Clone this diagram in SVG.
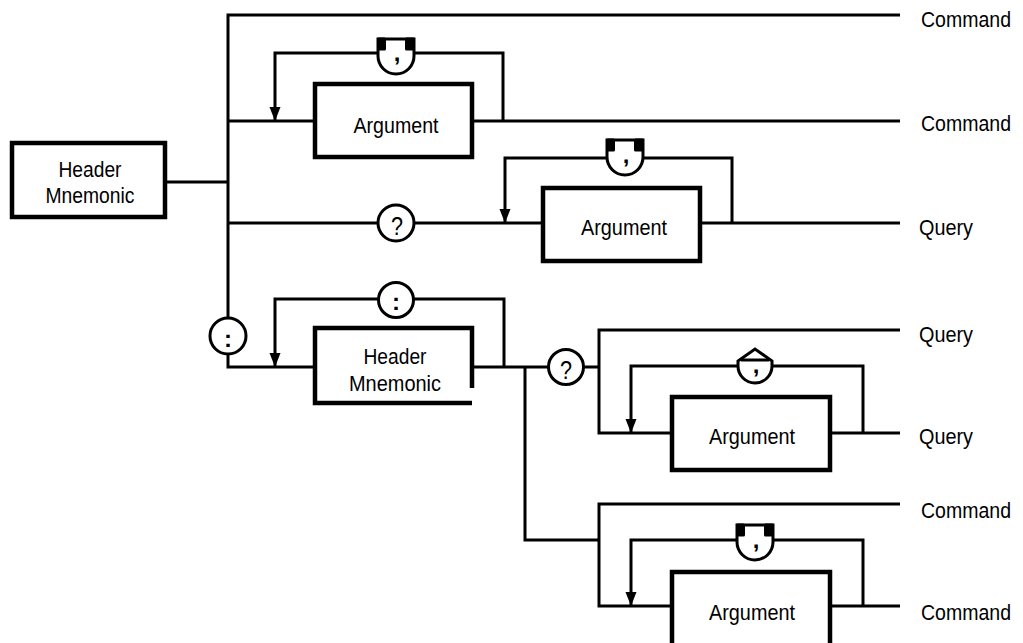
<svg xmlns="http://www.w3.org/2000/svg" width="1023" height="643" viewBox="0 0 1023 643">
  <style>
    .wire { fill: none; stroke: #000; stroke-width: 3; stroke-linejoin: miter; }
    .box { fill: #fff; stroke: #000; stroke-width: 4.5; }
    .ring { fill: #fff; stroke: #000; stroke-width: 3; }
    .blk { fill: #000; }
    .lbl { font-family: "Liberation Sans", Arial, Helvetica, sans-serif; font-size: 22px; fill: #000; }
    .mid { text-anchor: middle; }
    .sym { font-family: "Liberation Sans", Arial, Helvetica, sans-serif; font-size: 24px; font-weight: bold; text-anchor: middle; fill: #000; }
    .q { font-family: "Liberation Sans", Arial, Helvetica, sans-serif; font-size: 25px; text-anchor: middle; fill: #000; }
  </style>
  <defs>
    <marker id="arrow" markerUnits="userSpaceOnUse" markerWidth="14" markerHeight="12" viewBox="0 0 14 12" refX="14" refY="6" orient="auto">
      <path d="M0,0.5 L14,6 L0,11.5 Z" fill="#000"/>
    </marker>
    <!-- separator ring with a flat, heavy top, centred on the origin -->
    <g id="flat-ring">
      <path class="ring" d="M-18,0 A18,18 0 0 0 18,0 V-17 H-18 Z"/>
      <rect class="blk" x="-19" y="-18.5" width="9" height="13" rx="1.5"/>
      <rect class="blk" x="9" y="-18.5" width="10" height="13" rx="1.5"/>
    </g>
  </defs>

  <rect width="1023" height="643" fill="#fff"/>

  <!-- connectors -->
  <g id="connectors">
    <path class="wire" d="M165,182 H228"/>
    <path class="wire" d="M900,15 H228 V367 H315"/>
    <path class="wire" d="M228,121 H315 M472,121 H900"/>
    <path class="wire" d="M503,121 V53 H275 V121" marker-end="url(#arrow)"/>
    <path class="wire" d="M228,223 H543 M700,223 H900"/>
    <path class="wire" d="M732,223 V158 H505 V223" marker-end="url(#arrow)"/>
    <path class="wire" d="M504,367 V299 H275 V367" marker-end="url(#arrow)"/>
    <path class="wire" d="M472,367 H599 M525,367 V540 H599"/>
    <path class="wire" d="M900,330 H599 V433 H672 M830,433 H900"/>
    <path class="wire" d="M863,433 V366 H631 V433" marker-end="url(#arrow)"/>
    <path class="wire" d="M900,504 H599 V606 H672 M830,606 H900"/>
    <path class="wire" d="M863,606 V540 H631 V606" marker-end="url(#arrow)"/>
  </g>

  <!-- boxes -->
  <g id="header-main">
    <rect class="box" x="12" y="143" width="153" height="74"/>
    <text class="lbl mid" x="90" y="177" textLength="63" lengthAdjust="spacingAndGlyphs">Header</text>
    <text class="lbl mid" x="90" y="203" textLength="89" lengthAdjust="spacingAndGlyphs">Mnemonic</text>
  </g>
  <g id="argument-command">
    <rect class="box" x="315" y="84" width="157" height="73"/>
    <text class="lbl mid" x="396" y="133" textLength="85" lengthAdjust="spacingAndGlyphs">Argument</text>
  </g>
  <g id="argument-query">
    <rect class="box" x="543" y="188" width="157" height="73"/>
    <text class="lbl mid" x="624" y="235" textLength="86" lengthAdjust="spacingAndGlyphs">Argument</text>
  </g>
  <g id="header-sub">
    <rect x="315" y="328" width="157" height="75" fill="#fff"/>
    <path class="box" fill="none" d="M472,388 V328 H315 V403 H472"/>
    <text class="lbl mid" x="395" y="364" textLength="63" lengthAdjust="spacingAndGlyphs">Header</text>
    <text class="lbl mid" x="395" y="391" textLength="92" lengthAdjust="spacingAndGlyphs">Mnemonic</text>
  </g>
  <g id="argument-sub-query">
    <rect class="box" x="672" y="397" width="158" height="73"/>
    <text class="lbl mid" x="752" y="444" textLength="86" lengthAdjust="spacingAndGlyphs">Argument</text>
  </g>
  <g id="argument-sub-command">
    <rect class="box" x="672" y="572" width="158" height="75"/>
    <text class="lbl mid" x="752" y="620" textLength="86" lengthAdjust="spacingAndGlyphs">Argument</text>
  </g>

  <!-- separators -->
  <g id="comma-1">
    <use href="#flat-ring" transform="translate(396,56)"/>
    <text class="sym" x="397" y="61">,</text>
  </g>
  <g id="comma-2">
    <use href="#flat-ring" transform="translate(625,157)"/>
    <text class="sym" x="626" y="163">,</text>
  </g>
  <g id="query-1">
    <circle class="ring" cx="396" cy="223" r="18"/>
    <text class="q" x="397" y="235" textLength="12" lengthAdjust="spacingAndGlyphs">?</text>
  </g>
  <g id="colon-1">
    <circle class="ring" cx="228" cy="336" r="18"/>
    <text class="sym" x="228" y="347">:</text>
  </g>
  <g id="colon-2">
    <circle class="ring" cx="396" cy="300" r="17.5"/>
    <text class="sym" x="396" y="310">:</text>
  </g>
  <g id="query-2">
    <circle class="ring" cx="566" cy="367" r="17.5"/>
    <text class="q" x="566" y="379" textLength="12" lengthAdjust="spacingAndGlyphs">?</text>
  </g>
  <g id="comma-3">
    <path class="ring" d="M738,366 A17,17 0 0 0 772,366 V361 L755,349 L738,361 Z"/>
    <path class="wire" stroke-width="3.5" d="M741,360 H769"/>
    <text class="sym" x="756" y="373">,</text>
  </g>
  <g id="comma-4">
    <use href="#flat-ring" transform="translate(755,542)"/>
    <text class="sym" x="756" y="548">,</text>
  </g>

  <!-- result labels -->
  <g id="results">
    <text class="lbl" x="921" y="27" textLength="90" lengthAdjust="spacingAndGlyphs">Command</text>
    <text class="lbl" x="921" y="131" textLength="90" lengthAdjust="spacingAndGlyphs">Command</text>
    <text class="lbl" x="919" y="235" textLength="54" lengthAdjust="spacingAndGlyphs">Query</text>
    <text class="lbl" x="919" y="342" textLength="54" lengthAdjust="spacingAndGlyphs">Query</text>
    <text class="lbl" x="919" y="444" textLength="54" lengthAdjust="spacingAndGlyphs">Query</text>
    <text class="lbl" x="921" y="518" textLength="90" lengthAdjust="spacingAndGlyphs">Command</text>
    <text class="lbl" x="921" y="620" textLength="90" lengthAdjust="spacingAndGlyphs">Command</text>
  </g>
</svg>
